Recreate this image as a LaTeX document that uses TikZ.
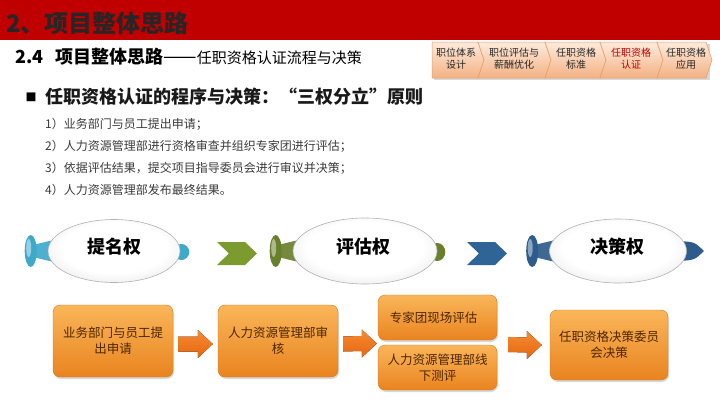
\documentclass[tikz,border=0pt]{standalone}
\usepackage{fontspec}
\setmainfont{Noto Sans CJK SC}
\usetikzlibrary{calc,shadows,shapes.geometric}
\definecolor{hdrred}{HTML}{C00000}
\definecolor{tabtop}{HTML}{FDEBDD}
\definecolor{tabbot}{HTML}{F4B183}
\definecolor{tabline}{HTML}{E3A06C}
\definecolor{boxtop}{HTML}{FAB65A}
\definecolor{boxbot}{HTML}{E9841F}
\definecolor{boxline}{HTML}{D9771A}
\definecolor{boxtext}{HTML}{4D2600}
\definecolor{arrowtop}{HTML}{F68B32}
\definecolor{arrowbot}{HTML}{E5660F}
\definecolor{listgray}{HTML}{3A3A3A}
\definecolor{knobcyan}{HTML}{3FA9CC}
\definecolor{knobolive}{HTML}{6A7F2B}
\definecolor{knobblue}{HTML}{2D5C8C}
\definecolor{chevgreen}{HTML}{7C9B2F}
\definecolor{chevblue}{HTML}{2F6596}
\pgfdeclarelayer{bg}
\pgfsetlayers{bg,main}
\pgfdeclareradialshading{bubsh}{\pgfpoint{0bp}{4bp}}{%
  color(0bp)=(white); color(20bp)=(white); color(36bp)=(black!12); color(45bp)=(black!25); color(52bp)=(black!38)}
\newcommand\blockarrow[2]{%
  \fill[top color=arrowtop,bottom color=arrowbot]
    ($(#1)+(0,-7.5)$) -- ($(#2)+(-15,-7.5)$) -- ($(#2)+(-15,-14)$) -- (#2)
    -- ($(#2)+(-15,14)$) -- ($(#2)+(-15,7.5)$) -- ($(#1)+(0,7.5)$) -- cycle;}
\newcommand\leftknob[2]{%
  \fill[#2!92!white]
    ($(#1.west)+(-15,-6)$) -- ($(#1.west)+(6,-11)$) -- ($(#1.west)+(6,11)$) -- ($(#1.west)+(-15,6)$) -- cycle;
  \fill[#2] ($(#1.west)+(-17,0)$) ellipse[x radius=6,y radius=16];
  \fill[#2!55!white] ($(#1.west)+(-19,-3)$) ellipse[x radius=2.5,y radius=9];}
\begin{document}
\begin{tikzpicture}[x=1pt,y=-1pt,
  tabtxt/.style={font=\fontsize{10}{12}\selectfont,align=center,text=black!85},
  tabshape/.style={draw=tabline,line width=0.5pt,top color=tabtop,bottom color=tabbot},
  box/.style={rounded corners=7,draw=boxline,top color=boxtop,bottom color=boxbot,
    drop shadow={opacity=0.3,shadow xshift=1pt,shadow yshift=-2pt},
    align=center,text=boxtext,font=\fontsize{12.5}{16}\selectfont,inner sep=2pt},
  bubble/.style={ellipse,draw=black!30,line width=0.6pt,shading=bubsh,inner sep=0pt},
  bubtxt/.style={font=\bfseries\fontsize{18}{18}\selectfont,text=black},
  listitem/.style={anchor=west,font=\fontsize{12}{12}\selectfont,text=listgray,inner sep=0pt}]
\useasboundingbox (0,0) rectangle (720,407);
% header
\fill[hdrred] (0,0) rectangle (720,40);
\node[anchor=west,inner sep=0pt,font=\bfseries\fontsize{24}{24}\selectfont,text=black!85] (title) at (6,23) {2、项目整体思路};
\node[anchor=west,inner sep=0pt] (sub) at (15,57)
  {{\bfseries\fontsize{18}{18}\selectfont 2.4\hspace{12pt}项目整体思路}{\fontsize{20}{15}\selectfont ——}{\fontsize{15}{15}\selectfont 任职资格认证流程与决策}};
% tabs
\fill[black!15] (434,44) rectangle (710,80);
\draw[tabshape] (432,42) -- (478,42) -- (484,60) -- (478,78) -- (432,78) -- cycle;
\draw[tabshape] (478,42) -- (545,42) -- (551,60) -- (545,78) -- (478,78) -- (484,60) -- cycle;
\draw[tabshape] (545,42) -- (600,42) -- (606,60) -- (600,78) -- (545,78) -- (551,60) -- cycle;
\draw[tabshape] (600,42) -- (657,42) -- (663,60) -- (657,78) -- (600,78) -- (606,60) -- cycle;
\draw[tabshape] (657,42) -- (706,42) -- (712,60) -- (706,78) -- (657,78) -- (663,60) -- cycle;
\node[tabtxt] (t1) at (456,59) {职位体系\\设计};
\node[tabtxt] (t2) at (514,59) {职位评估与\\薪酬优化};
\node[tabtxt] (t3) at (576,59) {任职资格\\标准};
\node[tabtxt,text=hdrred] (t4) at (631,59) {任职资格\\认证};
\node[tabtxt] (t5) at (686,59) {任职资格\\应用};
% heading and list
\node[inner sep=0pt,font=\fontsize{11}{11}\selectfont] (sq) at (31,97) {■};
\node[anchor=west,inner sep=0pt,font=\bfseries\fontsize{18}{18}\selectfont,text=black!90] (head) at (45,97)
  {任职资格认证的程序与决策：“三权分立”原则};
\node[listitem] (l1) at (45,124) {1）业务部门与员工提出申请；};
\node[listitem] (l2) at (45,146) {2）人力资源管理部进行资格审查并组织专家团进行评估；};
\node[listitem] (l3) at (45,168) {3）依据评估结果，提交项目指导委员会进行审议并决策；};
\node[listitem] (l4) at (45,190) {4）人力资源管理部发布最终结果。};
% bubbles
\node[bubble,minimum width=132,minimum height=63] (b1) at (114,251) {};
\node[bubble,minimum width=144,minimum height=66] (b2) at (365,251) {};
\node[bubble,minimum width=137,minimum height=64] (b3) at (618,251) {};
\node[bubtxt] (b1t) at (114,247) {提名权};
\node[bubtxt] (b2t) at (363,247) {评估权};
\node[bubtxt] (b3t) at (617,247) {决策权};
\begin{pgfonlayer}{bg}
  \leftknob{b1}{knobcyan}
  \leftknob{b2}{knobolive}
  \leftknob{b3}{knobblue}
  \fill[knobcyan] ($(b1.east)+(1,1)$) ellipse[x radius=8,y radius=8];
  \fill[knobolive] ($(b2.east)+(0,1)$) ellipse[x radius=8,y radius=9];
  \fill[knobblue]
    ($(b3.east)+(-8,-10)$) .. controls ($(b3.east)+(8,-9)$) .. ($(b3.east)+(17,0)$)
    .. controls ($(b3.east)+(8,9)$) .. ($(b3.east)+(-8,10)$) -- cycle;
\end{pgfonlayer}
% chevrons
\fill[chevgreen] (217,242) -- (245,242) -- (257,253.5) -- (245,265) -- (217,265) -- (229,253.5) -- cycle;
\fill[chevblue] (467,242) -- (495,242) -- (507,253.5) -- (495,265) -- (467,265) -- (479,253.5) -- cycle;
% orange boxes
\node[box,minimum width=120,minimum height=72] (o1) at (113,341) {业务部门与员工提\\出申请};
\node[box,minimum width=120,minimum height=72] (o2) at (278,341) {人力资源管理部审\\核};
\node[box,minimum width=119,minimum height=45] (o3a) at (437.5,317.5) {专家团现场评估\hspace{8pt}};
\node[box,minimum width=119,minimum height=45] (o3b) at (437.5,367.5) {人力资源管理部线\\下测评};
\node[box,minimum width=118,minimum height=70] (o4) at (609,345) {任职资格决策委员\\会决策};
% block arrows
\coordinate (a1s) at ([shift={(5,3)}]o1.east);
\coordinate (a1e) at ([shift={(-5,3)}]o2.west);
\coordinate (a2s) at ([shift={(5,3)}]o2.east);
\coordinate (a2e) at ($(o3a.south west)!0.5!(o3b.north west)+(-1,1)$);
\coordinate (a3s) at ($(o3a.south east)!0.5!(o3b.north east)+(11,2)$);
\coordinate (a3e) at ([shift={(-8,0)}]o4.west);
\blockarrow{a1s}{a1e}
\blockarrow{a2s}{a2e}
\blockarrow{a3s}{a3e}
\end{tikzpicture}
\end{document}
